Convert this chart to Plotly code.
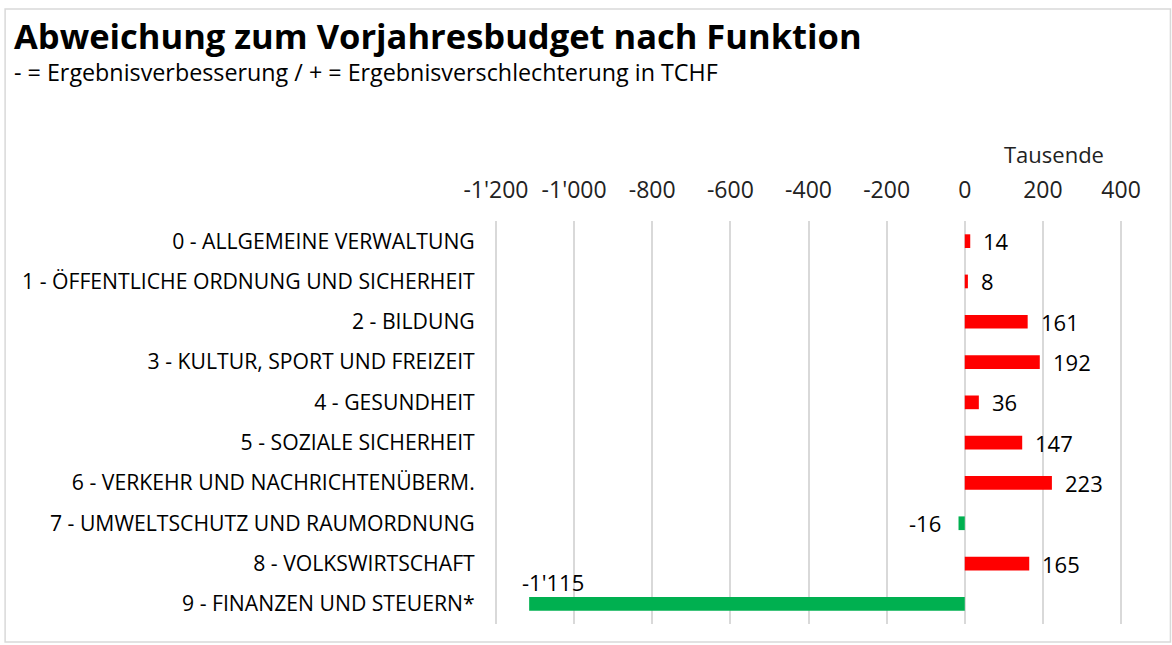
import plotly.graph_objects as go

categories = [
    "0 - ALLGEMEINE VERWALTUNG",
    "1 - ÖFFENTLICHE ORDNUNG UND SICHERHEIT",
    "2 - BILDUNG",
    "3 - KULTUR, SPORT UND FREIZEIT",
    "4 - GESUNDHEIT",
    "5 - SOZIALE SICHERHEIT",
    "6 - VERKEHR UND NACHRICHTENÜBERM.",
    "7 - UMWELTSCHUTZ UND RAUMORDNUNG",
    "8 - VOLKSWIRTSCHAFT",
    "9 - FINANZEN UND STEUERN*",
]
values = [14, 8, 161, 192, 36, 147, 223, -16, 165, -1115]
tick_vals = [-1200, -1000, -800, -600, -400, -200, 0, 200, 400]

RED = "#FF0000"
GREEN = "#00B050"
colors = [RED if v > 0 else GREEN for v in values]

FONT = "Open Sans, Noto Sans, sans-serif"


def fmt(v):
    s = f"{abs(v):,}".replace(",", "'")
    return ("-" if v < 0 else "") + s


tick_text = [fmt(v) for v in tick_vals]

W, H = 1172, 645
L, R, T, B = 493.6, 1123.5, 221, 624

fig = go.Figure()
fig.add_trace(go.Bar(
    y=categories, x=values, orientation="h",
    marker=dict(color=colors, line=dict(width=0)),
    width=0.34, hoverinfo="x+y",
))

annotations = []
for c, v in zip(categories, values):
    if v >= 0:
        annotations.append(dict(x=v, y=c, xref="x", yref="y", text=fmt(v), showarrow=False,
                                xanchor="left", xshift=11, font=dict(size=22, color="black", family=FONT)))
    elif v > -1200 * 0.9:
        annotations.append(dict(x=v, y=c, xref="x", yref="y", text=fmt(v), showarrow=False,
                                xanchor="right", xshift=-16, font=dict(size=22, color="black", family=FONT)))
    else:
        annotations.append(dict(x=v, y=c, xref="x", yref="y", text=fmt(v), showarrow=False,
                                xanchor="left", xshift=-9, yshift=22, font=dict(size=22, color="black", family=FONT)))

# axis unit label
annotations.append(dict(x=1.0, y=1.0, xref="paper", yref="paper", yshift=67, xshift=-17,
                        text="Tausende", showarrow=False, xanchor="right", yanchor="middle",
                        font=dict(size=22, color="#222", family=FONT)))
# title and subtitle
annotations.append(dict(x=(11 - L) / (R - L), y=(B - 35) / (B - T), xref="paper", yref="paper",
                        text="<b>Abweichung zum Vorjahresbudget nach Funktion</b>", showarrow=False,
                        xanchor="left", yanchor="middle", font=dict(size=34.5, color="black", family=FONT)))
annotations.append(dict(x=(11 - L) / (R - L), y=(B - 72) / (B - T), xref="paper", yref="paper",
                        text="- = Ergebnisverbesserung / + = Ergebnisverschlechterung in TCHF", showarrow=False,
                        xanchor="left", yanchor="middle", font=dict(size=23.3, color="black", family=FONT)))

fig.update_layout(
    width=W, height=H,
    paper_bgcolor="white", plot_bgcolor="white",
    margin=dict(l=L, r=W - R, t=T, b=H - B, autoexpand=False),
    showlegend=False,
    font=dict(family=FONT, color="black"),
    xaxis=dict(
        side="top", range=[-1205, 405], tickvals=tick_vals, ticktext=tick_text,
        showgrid=True, gridcolor="#D9D9D9", gridwidth=1.5, zeroline=False,
        ticks="outside", ticklen=13, tickcolor="rgba(0,0,0,0)",
        tickfont=dict(size=23, color="#222", family=FONT),
        fixedrange=True, showline=False,
    ),
    yaxis=dict(
        range=[9.5, -0.5], categoryorder="array", categoryarray=categories,
        ticks="outside", ticklen=14, tickcolor="rgba(0,0,0,0)",
        tickfont=dict(size=21.2, color="black", family=FONT),
        showgrid=False, zeroline=False, showline=False, fixedrange=True,
    ),
    annotations=annotations,
    shapes=[dict(type="rect", xref="paper", yref="paper",
                 x0=(4 - L) / (R - L), x1=(1171 - L) / (R - L),
                 y0=(B - 642) / (B - T), y1=(B - 9) / (B - T),
                 line=dict(color="#D9D9D9", width=1.5), fillcolor="rgba(0,0,0,0)", layer="below")],
)

fig.write_html("out.html", config={"displayModeBar": False},
               post_script="document.body.style.margin='0';document.body.style.overflow='hidden';")
